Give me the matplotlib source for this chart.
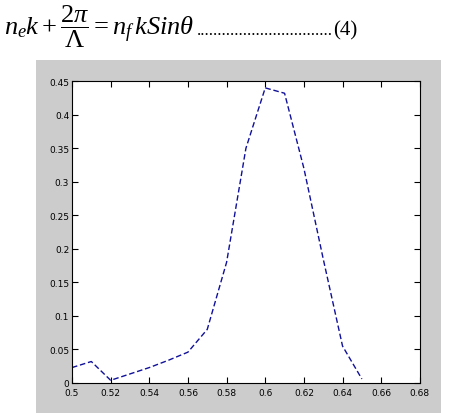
"""Reference recreation: equation (4) above a MATLAB-style dashed curve."""
import matplotlib
matplotlib.use("Agg")
import matplotlib.pyplot as plt
from matplotlib.patches import Rectangle

# data
wavelength = [0.50, 0.51, 0.52, 0.53, 0.54, 0.55, 0.56, 0.57,
              0.58, 0.59, 0.60, 0.61, 0.62, 0.63, 0.64, 0.65]
response = [0.023, 0.032, 0.004, 0.0135, 0.023, 0.034, 0.046, 0.080,
            0.180, 0.350, 0.440, 0.432, 0.320, 0.185, 0.055, 0.006]

x_ticks = [0.50, 0.52, 0.54, 0.56, 0.58, 0.60, 0.62, 0.64, 0.66, 0.68]
x_tick_labels = ["0.5", "0.52", "0.54", "0.56", "0.58", "0.6", "0.62", "0.64", "0.66", "0.68"]
y_ticks = [0, 0.05, 0.1, 0.15, 0.2, 0.25, 0.3, 0.35, 0.4, 0.45]
y_tick_labels = ["0", "0.05", "0.1", "0.15", "0.2", "0.25", "0.3", "0.35", "0.4", "0.45"]

plt.rcParams["mathtext.fontset"] = "custom"
plt.rcParams["mathtext.rm"] = "Liberation Serif"
plt.rcParams["mathtext.it"] = "Liberation Serif:italic"
plt.rcParams["mathtext.bf"] = "Liberation Serif:bold"

fig = plt.figure(figsize=(4.5, 4.14), dpi=100)
fig.patch.set_facecolor("white")

# grey MATLAB figure background, kept behind the axes
fig.patches.append(Rectangle((0.08, 0.0), 0.90, 0.853, transform=fig.transFigure,
                             facecolor="#cccccc", edgecolor="none", zorder=-5))

# equation line above the figure
fig.text(0.01, 0.935, r"$n_e k + \dfrac{2\pi}{\Lambda} = n_f\, k Sin\theta$",
         fontsize=19, family="Liberation Serif", va="center", ha="left")
fig.text(0.438, 0.925, "." * 32, fontsize=12.5, family="Liberation Serif",
         va="center", ha="left")
fig.text(0.740, 0.925, "(4)", fontsize=15, family="Liberation Serif",
         va="center", ha="left")

ax = fig.add_axes([0.16, 0.0725, 0.773, 0.729])
ax.set_zorder(1)
ax.plot(wavelength, response, color="#10109a", linestyle=(0, (4, 2)), linewidth=1.0)

ax.set_xlim(0.5, 0.68)
ax.set_ylim(0, 0.45)
ax.set_xticks(x_ticks)
ax.set_xticklabels(x_tick_labels)
ax.set_yticks(y_ticks)
ax.set_yticklabels(y_tick_labels)
ax.tick_params(direction="in", length=4, width=0.8, labelsize=6.5,
               top=True, right=True)
ax.tick_params(axis="x", pad=3.5)
ax.tick_params(axis="y", pad=2)
for s in ax.spines.values():
    s.set_linewidth(0.8)

fig.savefig("out.png", dpi=100)
